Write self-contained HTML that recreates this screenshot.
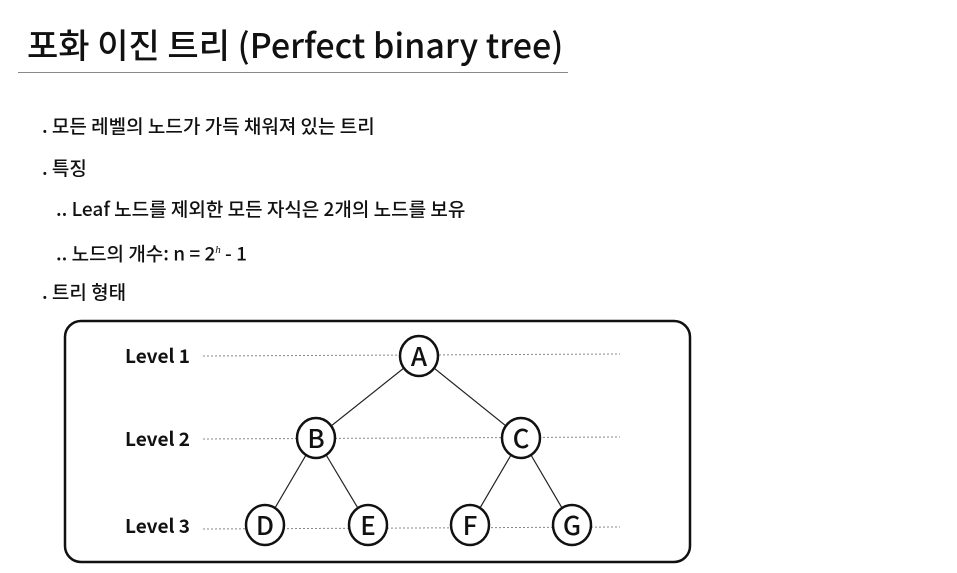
<!DOCTYPE html>
<html><head><meta charset="utf-8"><style>
body{margin:0;width:957px;height:573px;background:#fff;position:relative;overflow:hidden;font-family:"Noto Sans CJK KR","Liberation Sans",sans-serif;color:#111}
.t{position:absolute;left:27px;top:22px;font-size:34px;font-weight:500;white-space:nowrap;line-height:44px;letter-spacing:0}
.hr{position:absolute;left:18px;top:72px;width:550px;height:1px;background:#888}
.b{position:absolute;font-size:19px;font-weight:500;white-space:nowrap;line-height:26px;letter-spacing:0}
</style></head><body>
<div class="t">포화 이진 트리 (Perfect binary tree)</div>
<div class="hr"></div>
<div class="b" style="left:42px;top:113px">. 모든 레벨의 노드가 가득 채워져 있는 트리</div>
<div class="b" style="left:42px;top:155px">. 특징</div>
<div class="b" style="left:56px;top:196px">.. Leaf 노드를 제외한 모든 자식은 2개의 노드를 보유</div>
<div class="b" style="left:56px;top:237px">.. 노드의 개수: n = 2<sup style="font-size:11px;font-style:italic;font-family:'Liberation Serif',serif">h</sup> - 1</div>
<div class="b" style="left:42px;top:279px">. 트리 형태</div>
<svg width="957" height="573" style="position:absolute;left:0;top:0">
<rect x="65" y="321" width="625" height="241" rx="16" fill="none" stroke="#111" stroke-width="2.5"/>
<g stroke="#888" stroke-width="1" stroke-dasharray="2,2">
<line x1="203" y1="356" x2="620" y2="354"/>
<line x1="203" y1="439" x2="620" y2="437"/>
<line x1="203" y1="529" x2="620" y2="527"/>
</g>
<g stroke="#222" stroke-width="1.2">
<line x1="419" y1="356" x2="316" y2="438"/><line x1="419" y1="356" x2="521" y2="438"/>
<line x1="316" y1="438" x2="265" y2="525"/><line x1="316" y1="438" x2="368" y2="525"/>
<line x1="521" y1="438" x2="470" y2="525"/><line x1="521" y1="438" x2="572" y2="525"/>
</g>
<g fill="#fff" stroke="#111" stroke-width="2.5">
<ellipse cx="419" cy="356" rx="19" ry="20"/><ellipse cx="316" cy="438" rx="19" ry="20"/><ellipse cx="521" cy="438" rx="19" ry="20"/>
<ellipse cx="265" cy="525" rx="19" ry="20"/><ellipse cx="368" cy="525" rx="19" ry="20"/><ellipse cx="470" cy="525" rx="19" ry="20"/><ellipse cx="572" cy="525" rx="19" ry="20"/>
</g>
<g font-family="Noto Sans CJK KR, Liberation Sans, sans-serif" font-size="26" font-weight="500" text-anchor="middle" fill="#111">
<text x="419" y="366">A</text><text x="316" y="448">B</text><text x="521" y="448">C</text>
<text x="265" y="535">D</text><text x="368" y="535">E</text><text x="470" y="535">F</text><text x="572" y="535">G</text>
</g>
<g font-family="Noto Sans CJK KR, Liberation Sans, sans-serif" font-size="19" font-weight="bold" fill="#111">
<text x="125" y="363">Level 1</text><text x="125" y="446">Level 2</text><text x="125" y="533">Level 3</text>
</g>
</svg>
</body></html>
